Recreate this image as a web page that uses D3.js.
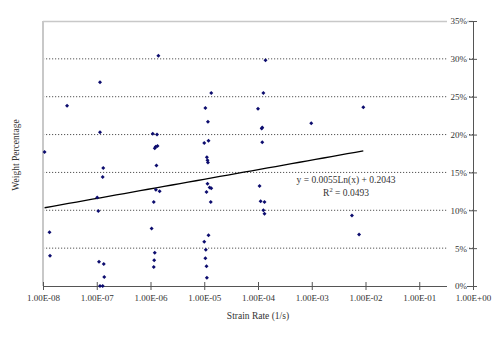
<!DOCTYPE html>
<html><head><meta charset="utf-8">
<script src="https://cdn.jsdelivr.net/npm/d3@7"></script>
<style>body{margin:0;background:#fff}svg{display:block}text{font-family:"Liberation Serif","Times New Roman",serif;fill:#333}</style>
</head><body><svg id="c" width="500" height="340"></svg>
<script>
const strainRate = [2.8e-8,1.07e-8,1.32e-8,1.35e-8,
 1.15e-7,1.15e-7,1.32e-7,1.29e-7,1.02e-7,1.07e-7,1.10e-7,1.35e-7,1.38e-7,1.15e-7,1.29e-7,
 1.4e-6,1.1e-6,1.32e-6,1.2e-6,1.25e-6,1.35e-6,1.29e-6,1.26e-6,1.48e-6,1.15e-6,1.05e-6,1.2e-6,1.17e-6,1.15e-6,
 1.35e-5,1.05e-5,1.17e-5,1.0e-5,1.2e-5,1.12e-5,1.15e-5,1.17e-5,1.15e-5,1.10e-5,1.26e-5,1.35e-5,1.32e-5,1.2e-5,1.0e-5,1.07e-5,1.05e-5,1.10e-5,1.12e-5,
 1.38e-4,1.26e-4,1.0e-4,1.17e-4,1.2e-4,1.2e-4,1.07e-4,1.12e-4,1.32e-4,1.26e-4,1.32e-4,
 9.8e-4,5.6e-3,7.6e-3,9.1e-3];
const weightPct = [23.8,17.7,7.1,4.0,
 26.9,20.3,15.6,14.4,11.7,9.9,3.2,2.9,1.2,0.0,0.0,
 30.4,20.1,20.0,18.2,18.4,18.5,15.9,12.7,12.5,11.1,7.6,4.4,3.4,2.5,
 25.5,23.5,21.7,18.9,19.2,17.0,16.6,16.3,13.5,12.4,13.0,12.9,11.1,6.7,5.85,4.8,3.66,2.6,1.1,
 29.8,25.5,23.4,20.8,20.95,19.0,13.2,11.2,11.1,10.0,9.55,
 21.5,9.3,6.8,23.6];
const xTicks = [1e-8,1e-7,1e-6,1e-5,1e-4,1e-3,1e-2,1e-1,1e0];
const yTicks = [0,5,10,15,20,25,30,35];
const trendA = 0.0055, trendB = 0.2043, rSquared = 0.0493;

const svg = d3.select("#c");
const L=43, R=473, T=21, B=286;
const x = d3.scaleLog().domain([1e-8,1]).range([L,R]);
const y = d3.scaleLinear().domain([0,35]).range([B,T]);

// gridlines
svg.append("g").selectAll("line").data(yTicks.filter(d=>d>0&&d<35)).join("line")
 .attr("x1",L).attr("x2",R).attr("y1",d=>y(d)).attr("y2",d=>y(d))
 .attr("stroke","#555").attr("stroke-width",1).attr("stroke-dasharray","1.2,1.8");
// plot borders
svg.append("line").attr("x1",L).attr("x2",R).attr("y1",T+0.5).attr("y2",T+0.5).attr("stroke","#c8c8c8").attr("stroke-width",1.5);
svg.append("line").attr("x1",L).attr("x2",L).attr("y1",T).attr("y2",B).attr("stroke","#c8c8c8").attr("stroke-width",2);

// x axis
const xAxis = d3.axisBottom(x).tickValues(xTicks).tickSize(4)
 .tickFormat(d=>{const e=Math.round(Math.log10(d));return "1.00E"+(e<0?"-":"+")+String(Math.abs(e)).padStart(2,"0");});
const gx = svg.append("g").attr("transform",`translate(0,${B})`).call(xAxis);
gx.select(".domain").attr("stroke","#555");
gx.selectAll(".tick line").attr("stroke","#555").attr("y1",-4);
gx.selectAll(".tick text").attr("font-size",9).attr("dy","0.55em").attr("y",10).attr("fill","#333")
 .attr("font-family","Liberation Serif");

// y axis on right, labels left of axis
const yAxis = d3.axisLeft(y).tickValues(yTicks).tickSize(4).tickFormat(d=>d+"%");
const gy = svg.append("g").attr("transform",`translate(${R},0)`).call(yAxis);
gy.select(".domain").attr("stroke","#555");
gy.selectAll(".tick line").attr("stroke","#555").attr("x2",4).attr("x1",-4);
gy.selectAll(".tick").each(function(){
  const t=d3.select(this);
  t.insert("rect","text").attr("x",-26).attr("y",-5).attr("width",20).attr("height",10).attr("fill","#fff");
});
gy.selectAll(".tick text").attr("font-size",9).attr("x",-6).attr("fill","#333").attr("font-family","Liberation Serif");

// trendline
const xMin=d3.min(strainRate), xMax=d3.max(strainRate);
const samples=d3.range(0,41).map(i=>Math.exp(Math.log(xMin)+(Math.log(xMax)-Math.log(xMin))*i/40));
svg.append("path").datum(samples)
 .attr("d",d3.line().x(d=>x(d)).y(d=>y((trendA*Math.log(d)+trendB)*100)))
 .attr("fill","none").attr("stroke","#000").attr("stroke-width",1.3);

// points
svg.append("g").selectAll("path").data(strainRate.map((d,i)=>[d,weightPct[i]])).join("path")
 .attr("transform",d=>`translate(${x(d[0])},${y(d[1])}) rotate(45)`)
 .attr("d",d3.symbol(d3.symbolSquare,8)).attr("fill","#0c0c6e");

// equation
svg.append("text").attr("x",346).attr("y",183).attr("text-anchor","middle").attr("font-size",9.5)
 .text(`y = ${trendA}Ln(x) + ${trendB}`);
const r2=svg.append("text").attr("x",346).attr("y",196).attr("text-anchor","middle").attr("font-size",9.5);
r2.append("tspan").text("R");
r2.append("tspan").attr("font-size",6.5).attr("dy",-4).text("2");
r2.append("tspan").attr("dy",4).text(` = ${rSquared}`);

// titles
svg.append("text").attr("x",258).attr("y",319).attr("text-anchor","middle").attr("font-size",9.5).text("Strain Rate (1/s)");
svg.append("text").attr("transform","translate(19,155) rotate(-90)").attr("text-anchor","middle").attr("font-size",9.5).text("Weight Percentage");
</script></body></html>
